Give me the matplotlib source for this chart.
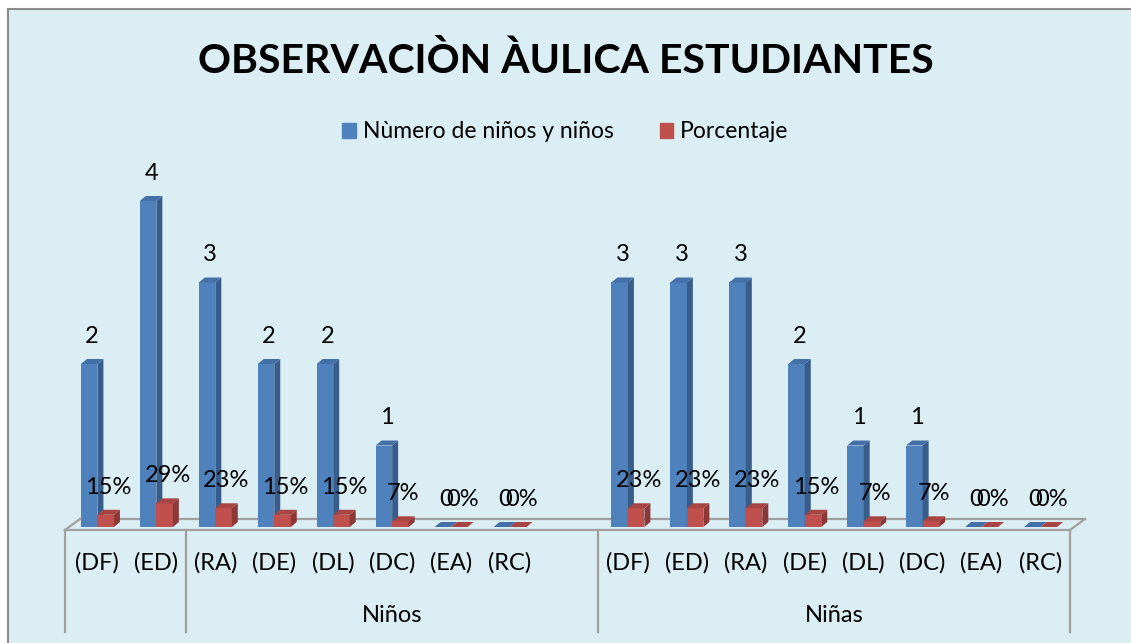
import numpy as np
import matplotlib
matplotlib.use("Agg")
import matplotlib.pyplot as plt
from matplotlib.patches import Polygon, Patch, Rectangle

plt.rcParams["font.family"] = ["Lato", "DejaVu Sans"]

categories = ["(DF)", "(ED)", "(RA)", "(DE)", "(DL)", "(DC)", "(EA)", "(RC)"]
ninos_count = [2, 4, 3, 2, 2, 1, 0, 0]
ninos_pct = [0.15, 0.29, 0.23, 0.15, 0.15, 0.07, 0, 0]
ninas_count = [3, 3, 3, 2, 1, 1, 0, 0]
ninas_pct = [0.23, 0.23, 0.23, 0.15, 0.07, 0.07, 0, 0]
group_labels = ["Niños", "Niñas"]
series_names = ["Nùmero de niños y niños", "Porcentaje"]

BG = "#DBEEF4"
BLUE, BLUE_SIDE, BLUE_TOP = "#4F81BD", "#385D8A", "#4470A8"
RED, RED_SIDE, RED_TOP = "#C0504D", "#8C3836", "#A84542"
GRID = "#A0A0A0"

W, H = 1131, 643
fig = plt.figure(figsize=(W / 100, H / 100), dpi=100, facecolor="white")
# chart area: border only visible on the top and left edges
fig.add_artist(Rectangle((8 / W, -0.05), 1.05, 1.05 - 9 / H, transform=fig.transFigure,
                         facecolor=BG, edgecolor="#8C8C8C", lw=1.5, zorder=0))

# axes placed in pixels: floor 65..1070 px, zero line at y=527 px
X0, X1 = -0.55, 16.5
ax = fig.add_axes([65 / W, (H - 527) / H, 1005 / W, (81.5 * 4.5) / H])
ax.set_xlim(X0, X1)
ax.set_ylim(0, 4.5)
ax.axis("off")
ax.patch.set_alpha(0)

px_x = 1005 / (X1 - X0)
px_y = 81.5
ddx, ddy = 6 / px_x, 5 / px_y
bw = 0.28


def bar3d(x0, h, front, side, top):
    x1 = x0 + bw
    ax.bar(x0, h, bw, align="edge", color=front, lw=0, zorder=3)
    ax.add_patch(Polygon([(x1, 0), (x1 + ddx, ddy), (x1 + ddx, h + ddy), (x1, h)],
                         closed=True, facecolor=side, lw=0, zorder=3))
    ax.add_patch(Polygon([(x0, h), (x0 + ddx, h + ddy), (x1 + ddx, h + ddy), (x1, h)],
                         closed=True, facecolor=top, lw=0, zorder=3))


# floor (thin 3D plate)
fy, by, fo = -3 / px_y, 8 / px_y, 15 / px_x
ax.plot([X0, X1], [fy, fy], color=GRID, lw=1.6, zorder=2, clip_on=False)
ax.plot([X0 + fo, X1 + fo], [by, by], color=GRID, lw=1.6, zorder=1, clip_on=False)
ax.plot([X0, X0 + fo], [fy, by], color=GRID, lw=1.6, zorder=1, clip_on=False)
ax.plot([X1, X1 + fo], [fy, by], color=GRID, lw=1.6, zorder=1, clip_on=False)

pos = np.concatenate([np.arange(8), np.arange(8) + 9])
counts = ninos_count + ninas_count
pcts = ninos_pct + ninas_pct

for p, c, r in zip(pos, counts, pcts):
    bar3d(p - bw, c, BLUE, BLUE_SIDE, BLUE_TOP)
    bar3d(p, r, RED, RED_SIDE, RED_TOP)
    ax.annotate(f"{c}", (p - bw / 2 + ddx / 2, c + ddy), xytext=(0, 12),
                textcoords="offset pixels", ha="center", va="bottom",
                fontsize=17, zorder=5, annotation_clip=False)
    ax.annotate(f"{r:.0%}", (p + bw / 2 + ddx / 2, r + ddy), xytext=(0, 12),
                textcoords="offset pixels", ha="center", va="bottom",
                fontsize=17, zorder=5, annotation_clip=False)

# multi-level category axis
cat_y = -(563 - 527) / px_y
grp_y = -(615 - 527) / px_y
bot_y = -(632 - 527) / px_y
for p, lab in zip(pos, categories + categories):
    ax.text(p, cat_y, lab, ha="center", va="center", fontsize=17, clip_on=False)
for xd in [X0, 1.5, 8.5, X1]:
    ax.plot([xd, xd], [fy, bot_y], color=GRID, lw=1.6, clip_on=False)
ax.text(5, grp_y, group_labels[0], ha="center", va="center", fontsize=17)
ax.text(12.5, grp_y, group_labels[1], ha="center", va="center", fontsize=17)

fig.text(0.5, 1 - 61 / H, "OBSERVACIÒN ÀULICA ESTUDIANTES", ha="center",
         va="center", fontsize=29.5, fontweight="bold")

handles = [Patch(color=BLUE, label=series_names[0]), Patch(color=RED, label=series_names[1])]
fig.legend(handles=handles, loc="center", bbox_to_anchor=(0.5, 1 - 132 / H), ncol=2,
           frameon=False, fontsize=16.5, handlelength=0.6, handleheight=0.6,
           handletextpad=0.3, columnspacing=2.0)

fig.savefig("out.png", dpi=100, facecolor="white")
